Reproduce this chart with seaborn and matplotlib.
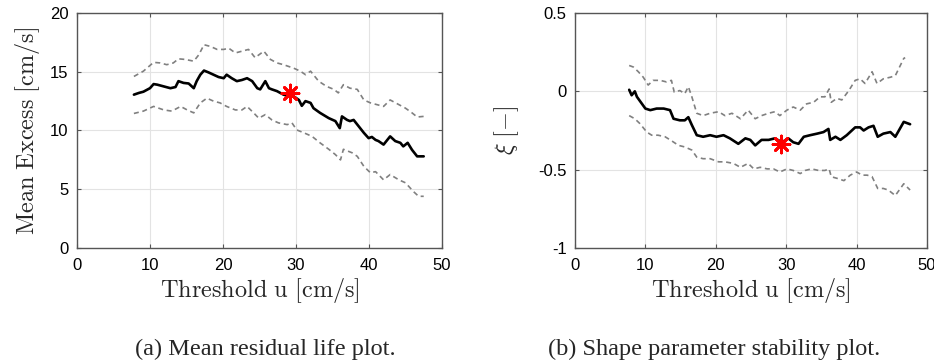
import matplotlib
matplotlib.use("Agg")
import matplotlib.pyplot as plt
import seaborn as sns
import pandas as pd

# ---------------- data: (a) mean residual life ----------------
mrl_u = [7.8, 8.5, 9.1, 10.0, 10.5, 11.0, 11.9, 12.8, 13.5, 13.9, 14.6, 15.3, 16.0, 16.4, 16.9,
         17.4, 18.0, 18.7, 19.4, 20.1, 20.5, 21.2, 21.9, 22.6, 23.3, 24.0, 24.7, 25.1, 25.8,
         26.3, 26.7, 27.4, 28.3, 29.1, 29.7, 30.4, 30.8, 31.3, 32.0, 32.4, 33.3, 34.5, 35.4,
         36.0, 36.3, 37.0, 37.4, 37.9, 38.6, 39.3, 39.95, 40.4, 40.9, 41.3, 42.0, 42.9, 43.6,
         44.3, 44.7, 45.3, 45.9, 46.6, 47.5]
mrl_mean = [13.05, 13.2, 13.3, 13.6, 13.95, 13.9, 13.75, 13.6, 13.7, 14.2, 14.05, 14.0, 13.6, 14.2,
            14.75, 15.1, 14.95, 14.75, 14.55, 14.45, 14.75, 14.45, 14.2, 14.3, 14.45, 14.2, 13.6,
            13.5, 14.2, 13.6, 13.5, 13.35, 13.05, 12.9, 12.9, 12.6, 12.1, 12.5, 12.35, 11.9, 11.5,
            11.05, 10.8, 10.2, 11.2, 10.9, 10.8, 10.9, 10.35, 9.8, 9.35, 9.45, 9.2, 9.1, 8.8, 9.5,
            9.1, 8.95, 8.65, 8.95, 8.35, 7.8, 7.8]

mrl_up_u = [7.8, 9.1, 10.5, 11.4, 12.3, 13.2, 13.9, 14.8, 16.0, 16.7, 17.4, 18.3, 19.2, 20.1, 20.8,
            21.7, 22.6, 23.5, 24.4, 25.6, 26.5, 27.4, 28.3, 29.7, 30.6, 31.3, 32.0, 33.1, 34.2,
            35.2, 35.8, 36.5, 37.4, 38.4, 39.3, 40.2, 41.1, 42.0, 42.9, 44.1, 45.0, 45.9, 46.6, 47.5]
mrl_up = [14.6, 15.05, 15.8, 15.75, 15.6, 15.75, 16.1, 16.05, 15.9, 16.45, 17.3, 17.15, 16.9, 16.9,
          17.0, 16.6, 16.75, 16.9, 16.2, 16.75, 16.05, 15.75, 15.6, 15.3, 15.05, 14.75, 15.05,
          14.2, 13.75, 13.5, 13.2, 13.9, 13.6, 13.5, 12.6, 12.35, 12.2, 12.05, 12.6, 12.2, 11.9,
          11.5, 11.15, 11.2]

mrl_lo_u = [7.8, 9.1, 10.5, 11.9, 13.0, 14.2, 15.1, 16.0, 16.9, 17.8, 18.7, 19.6, 20.5, 21.7, 22.6,
            23.3, 24.2, 24.9, 25.8, 26.7, 27.6, 28.8, 29.45, 30.1, 31.1, 32.2, 33.3, 34.5, 35.4,
            36.1, 36.5, 37.7, 38.4, 39.3, 40.2, 40.9, 42.0, 42.9, 44.1, 45.0, 46.1, 46.8, 47.5]
mrl_lo = [11.45, 11.65, 12.05, 11.75, 11.65, 12.05, 11.75, 11.5, 12.35, 12.75, 12.5, 12.35, 12.05,
          11.75, 11.75, 12.05, 11.5, 11.05, 11.35, 10.9, 10.65, 10.5, 10.65, 10.05, 9.8, 9.5,
          8.95, 8.4, 7.95, 7.5, 8.4, 8.1, 7.8, 6.95, 6.4, 6.5, 5.8, 6.25, 5.8, 5.55, 4.8, 4.4, 4.4]

mrl_sel_u = [29.2]
mrl_sel = [13.2]

# ---------------- data: (b) shape parameter stability ----------------
xi_u = [7.7, 8.05, 8.5, 8.8, 9.2, 10.0, 10.7, 11.6, 12.6, 13.5, 14.0, 14.9, 15.6, 16.1, 16.6, 17.3,
        18.2, 19.2, 20.1, 21.1, 22.0, 23.2, 24.2, 24.9, 25.6, 26.5, 27.5, 28.4, 29.4, 30.3, 31.0,
        31.75, 32.5, 33.4, 34.4, 35.3, 36.0, 36.25, 37.0, 37.7, 38.6, 39.8, 40.5, 41.0, 41.7,
        42.4, 43.0, 43.8, 44.8, 45.5, 46.7, 47.6]
xi_mean = [0.01, -0.025, 0.0, -0.035, -0.06, -0.11, -0.12, -0.11, -0.11, -0.12, -0.175, -0.185,
           -0.185, -0.165, -0.215, -0.28, -0.29, -0.28, -0.29, -0.28, -0.30, -0.335, -0.30, -0.31,
           -0.345, -0.31, -0.31, -0.30, -0.325, -0.30, -0.325, -0.335, -0.29, -0.28, -0.27, -0.26,
           -0.24, -0.31, -0.29, -0.31, -0.28, -0.23, -0.23, -0.25, -0.23, -0.22, -0.29, -0.27,
           -0.26, -0.29, -0.195, -0.21]

xi_up_u = [7.7, 8.3, 9.0, 9.7, 10.4, 11.1, 12.1, 13.0, 13.7, 14.1, 14.9, 15.6, 16.1, 16.6, 17.3,
           18.2, 19.2, 20.4, 21.3, 22.3, 23.5, 24.6, 25.6, 26.5, 27.5, 28.4, 29.1, 30.1, 31.0,
           32.0, 32.9, 33.9, 34.8, 35.5, 36.1, 36.4, 37.2, 37.9, 38.9, 39.8, 40.5, 41.2, 42.2,
           42.9, 43.8, 44.8, 45.5, 46.7, 46.9]
xi_up = [0.165, 0.155, 0.125, 0.09, 0.04, 0.07, 0.07, 0.06, 0.07, -0.005, 0.005, -0.015, 0.03,
         -0.035, -0.14, -0.155, -0.14, -0.13, -0.155, -0.14, -0.175, -0.12, -0.175, -0.155, -0.14,
         -0.13, -0.155, -0.12, -0.10, -0.12, -0.08, -0.07, -0.035, -0.035, 0.015, -0.07, -0.045,
         -0.055, 0.005, 0.07, 0.08, 0.05, 0.125, 0.05, 0.08, 0.09, 0.10, 0.21, 0.215]

xi_lo_u = [7.7, 8.5, 9.2, 10.2, 10.9, 11.8, 12.8, 13.7, 14.7, 15.6, 16.6, 17.3, 18.2, 19.2, 20.4,
           21.3, 22.5, 23.5, 24.6, 25.4, 26.3, 27.3, 28.2, 29.1, 30.1, 31.0, 32.0, 32.7, 33.6,
           34.6, 35.5, 36.1, 36.4, 37.2, 38.2, 39.1, 40.0, 40.8, 41.5, 42.2, 43.0, 43.8, 44.5,
           45.5, 46.7, 47.6]
xi_lo = [-0.155, -0.175, -0.205, -0.26, -0.28, -0.28, -0.29, -0.315, -0.345, -0.355, -0.375, -0.42,
         -0.43, -0.43, -0.45, -0.45, -0.46, -0.485, -0.46, -0.495, -0.485, -0.495, -0.495, -0.515,
         -0.495, -0.505, -0.525, -0.505, -0.495, -0.505, -0.505, -0.495, -0.545, -0.555, -0.57,
         -0.535, -0.515, -0.535, -0.535, -0.545, -0.62, -0.62, -0.63, -0.665, -0.59, -0.63]

xi_sel_u = [29.2]
xi_sel = [-0.335]

x_ticks = [0, 10, 20, 30, 40, 50]
mrl_yticks = [0, 5, 10, 15, 20]
xi_yticks = [-1, -0.5, 0, 0.5]
xi_yticklabels = ["-1", "-0.5", "0", "0.5"]

caption_a = "(a) Mean residual life plot."
caption_b = "(b) Shape parameter stability plot."

# ---------------- style ----------------
sns.set_style("whitegrid")
plt.rcParams["font.family"] = ["Liberation Sans", "DejaVu Sans"]
plt.rcParams["mathtext.fontset"] = "cm"

fig = plt.figure(figsize=(9.34, 3.63), dpi=100)
ax1 = fig.add_axes([0.0824, 0.3168, 0.3908, 0.6474])
ax2 = fig.add_axes([0.6156, 0.3168, 0.3769, 0.6474])

GREY = "#808080"
dash = (3, 2.2)


def draw(ax, mu, mv, uu, uv, lu, lv, su, sv):
    sns.lineplot(x=uu, y=uv, ax=ax, color=GREY, lw=1.2, estimator=None,
                 sort=False, linestyle=(0, dash))
    sns.lineplot(x=lu, y=lv, ax=ax, color=GREY, lw=1.2, estimator=None,
                 sort=False, linestyle=(0, dash))
    sns.lineplot(x=mu, y=mv, ax=ax, color="black", lw=1.9, estimator=None, sort=False)
    sns.scatterplot(x=su, y=sv, ax=ax, marker=(8, 2, 0), s=150, color="red",
                    edgecolor="red", linewidth=2.0, zorder=5)


draw(ax1, mrl_u, mrl_mean, mrl_up_u, mrl_up, mrl_lo_u, mrl_lo, mrl_sel_u, mrl_sel)
draw(ax2, xi_u, xi_mean, xi_up_u, xi_up, xi_lo_u, xi_lo, xi_sel_u, xi_sel)

for ax in (ax1, ax2):
    ax.set_xlim(0, 50)
    ax.set_xticks(x_ticks)
    ax.grid(True, color="#e3e3e3", lw=0.8)
    for sp in ax.spines.values():
        sp.set_visible(True)
        sp.set_color("#555555")
        sp.set_linewidth(1.0)
    ax.tick_params(direction="in", length=3, width=0.8, color="#555555",
                   top=True, right=True, bottom=True, left=True,
                   labelsize=12, labelcolor="black")
    ax.tick_params(axis="x", pad=7)
    ax.tick_params(axis="y", pad=6)
    ax.set_xlabel(r"$\mathrm{Threshold\ u\ [cm/s]}$", fontsize=17.5, labelpad=2)

ax1.set_ylim(0, 20)
ax1.set_yticks(mrl_yticks)
ax1.set_ylabel(r"$\mathrm{Mean\ Excess\ [cm/s]}$", fontsize=17.5, labelpad=6)

ax2.set_ylim(-1, 0.5)
ax2.set_yticks(xi_yticks)
ax2.set_yticklabels(xi_yticklabels)
ax2.set_ylabel(r"$\xi\ [-]$", fontsize=17.5, labelpad=12)

fig.text(0.284, 0.038, caption_a, ha="center", va="center",
         family=["Liberation Serif", "DejaVu Serif"], fontsize=17.5)
fig.text(0.765, 0.038, caption_b, ha="center", va="center",
         family=["Liberation Serif", "DejaVu Serif"], fontsize=17.5)

fig.savefig("out.png", dpi=100, facecolor="white")
